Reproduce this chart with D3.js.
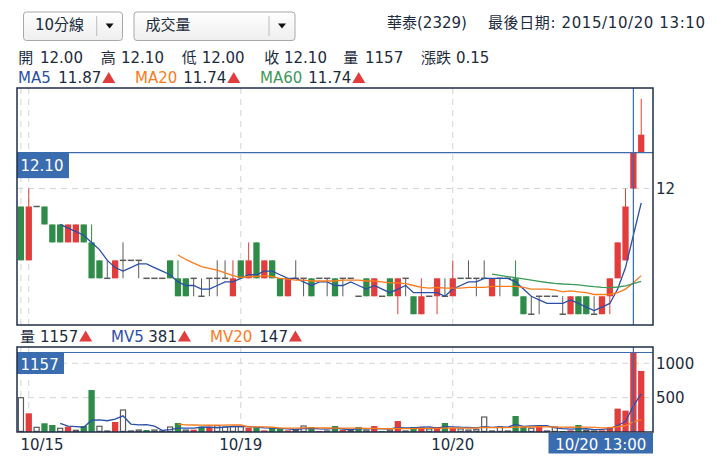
<!DOCTYPE html>
<html>
<head>
<meta charset="utf-8">
<script src="https://cdn.jsdelivr.net/npm/d3@7"></script>
<style>
  body { margin: 0; background: #fff; }
  svg { display: block; font-family: "DejaVu Sans", Verdana, "Noto Sans CJK TC", sans-serif; }
</style>
</head>
<body>
<svg id="chart" width="718" height="461"></svg>
<script>
const width = 718;
const height = 461;
const sid = "#chart";

// trading days on screen, bars per day and first bar time of each
const dayLabels = ["10/15", "10/16", "10/19", "10/20"];
const dayBars = [1, 27, 27, 25];
const dayFirstTime = ["13:30", "09:10", "09:10", "09:10"];

// 10 minute bars
const opens = [
  11.95, 11.80, 11.95, 11.95, 11.90, 11.90, 11.85, 11.85, 11.90, 11.85,
  11.80, 11.75, 11.75, 11.80, 11.80, 11.80, 11.75, 11.75, 11.75, 11.80,
  11.75, 11.75, 11.75, 11.70, 11.75, 11.75, 11.75, 11.70, 11.80, 11.75,
  11.85, 11.75, 11.80, 11.75, 11.70, 11.75, 11.75, 11.75, 11.75, 11.75,
  11.75, 11.75, 11.75, 11.70, 11.75, 11.70, 11.70, 11.75, 11.70, 11.75,
  11.70, 11.65, 11.70, 11.70, 11.70, 11.70, 11.75, 11.75, 11.75, 11.75,
  11.70, 11.75, 11.75, 11.75, 11.70, 11.65, 11.70, 11.70, 11.70, 11.65,
  11.65, 11.70, 11.70, 11.65, 11.65, 11.70, 11.75, 11.80, 12.00, 12.10
];
const highs = [
  11.95, 12.00, 11.95, 11.95, 11.90, 11.90, 11.90, 11.90, 11.90, 11.90,
  11.80, 11.80, 11.80, 11.85, 11.80, 11.80, 11.75, 11.75, 11.75, 11.80,
  11.80, 11.75, 11.75, 11.75, 11.75, 11.80, 11.80, 11.80, 11.80, 11.85,
  11.85, 11.80, 11.80, 11.75, 11.75, 11.80, 11.75, 11.75, 11.75, 11.75,
  11.75, 11.75, 11.75, 11.70, 11.75, 11.75, 11.70, 11.75, 11.75, 11.75,
  11.70, 11.75, 11.70, 11.75, 11.75, 11.80, 11.75, 11.80, 11.75, 11.80,
  11.75, 11.75, 11.75, 11.80, 11.70, 11.70, 11.70, 11.70, 11.70, 11.70,
  11.70, 11.70, 11.70, 11.70, 11.70, 11.75, 11.85, 12.00, 12.10, 12.25
];
const lows = [
  11.80, 11.80, 11.95, 11.90, 11.85, 11.85, 11.85, 11.85, 11.85, 11.75,
  11.75, 11.75, 11.75, 11.75, 11.80, 11.75, 11.75, 11.75, 11.75, 11.75,
  11.70, 11.70, 11.70, 11.70, 11.70, 11.70, 11.75, 11.70, 11.75, 11.75,
  11.75, 11.75, 11.75, 11.70, 11.70, 11.75, 11.70, 11.70, 11.75, 11.70,
  11.70, 11.70, 11.75, 11.70, 11.70, 11.70, 11.70, 11.70, 11.65, 11.70,
  11.65, 11.65, 11.70, 11.65, 11.70, 11.70, 11.75, 11.75, 11.70, 11.75,
  11.70, 11.70, 11.75, 11.70, 11.65, 11.65, 11.65, 11.70, 11.70, 11.65,
  11.65, 11.65, 11.65, 11.65, 11.65, 11.65, 11.75, 11.80, 12.00, 12.10
];
const closes = [
  11.80, 11.95, 11.95, 11.90, 11.85, 11.85, 11.90, 11.90, 11.85, 11.75,
  11.75, 11.75, 11.80, 11.80, 11.80, 11.80, 11.75, 11.75, 11.75, 11.75,
  11.70, 11.70, 11.75, 11.70, 11.75, 11.75, 11.75, 11.75, 11.75, 11.80,
  11.75, 11.80, 11.75, 11.70, 11.75, 11.75, 11.75, 11.70, 11.75, 11.75,
  11.70, 11.75, 11.75, 11.70, 11.70, 11.75, 11.70, 11.70, 11.75, 11.75,
  11.65, 11.70, 11.70, 11.75, 11.70, 11.75, 11.75, 11.75, 11.75, 11.75,
  11.75, 11.75, 11.75, 11.70, 11.65, 11.65, 11.70, 11.70, 11.70, 11.65,
  11.70, 11.65, 11.65, 11.65, 11.70, 11.75, 11.85, 11.95, 12.10, 12.15
];
const volumes = [
  499, 272, 68, 127, 102, 54, 78, 25, 87, 611,
  83, 15, 146, 320, 15, 29, 29, 29, 15, 73,
  131, 29, 34, 78, 78, 92, 73, 78, 78, 63,
  63, 24, 58, 53, 24, 24, 87, 73, 15, 15,
  87, 29, 24, 73, 29, 87, 15, 29, 160, 15,
  73, 73, 44, 73, 131, 58, 44, 29, 34, 218,
  15, 73, 15, 233, 73, 55, 87, 15, 73, 15,
  24, 102, 24, 15, 24, 73, 340, 311, 1157, 888
];

const priceTicks = [12];
const volumeTicks = [500, 1000];
const maPeriods = [5, 20, 60];
const mvPeriods = [5, 20];
const focusIndex = 78;   // bar under the cursor

const RED = "#e23d3d", GREEN = "#2f8c48", GREY = "#5a5a5a";
const MA_COLORS = ["#2b4fa7", "#fb7b1c", "#3c9a58"];
const TEXT = "#1b2b3d", BORDER = "#1d2e4b", CROSS = "#3b6ba9", BOX = "#3a6cb0";

// build one record per bar
const bars = [];
dayLabels.forEach((day, k) => {
    const [hh, mm] = dayFirstTime[k].split(":").map(Number);
    for (let j = 0; j < dayBars[k]; j++) {
        const t = hh * 60 + mm + j * 10;
        bars.push({
            day: day,
            first: j === 0,
            time: String(Math.floor(t / 60)).padStart(2, "0") + ":" + String(t % 60).padStart(2, "0")
        });
    }
});
bars.forEach((b, i) => {
    b.i = i;
    b.open = opens[i]; b.high = highs[i]; b.low = lows[i]; b.close = closes[i];
    b.volume = volumes[i];
    b.prev = i > 0 ? closes[i - 1] : null;
});

function movingAvg(values, n) {
    // the chart starts each average one bar after a full window
    return values.map((v, i) => i >= n ? { i: i, v: d3.mean(values.slice(i - n + 1, i + 1)) } : null)
        .filter(d => d);
}
const round2 = v => Math.round(v * 100 + 1e-6) / 100;

const svg = d3.select(sid);
const fmt2 = d3.format(".2f");

const main = { left: 17, right: 653, top: 88, bottom: 325 };
const vol = { left: 17, right: 653, top: 347, bottom: 432 };

const x = d3.scaleBand()
    .domain(d3.range(bars.length + 1))
    .range([main.left, main.right]);
const cx = i => x(i) + x.bandwidth() / 2;
const bodyW = x.bandwidth() * 0.8;

const y = d3.scaleLinear().domain([11.62, 12.28]).range([main.bottom, main.top]);
const yv = d3.scaleLinear().domain([0, 1000]).range([vol.bottom, 363.3]);

// ---------- top controls ----------
const grad = svg.append("defs").append("linearGradient")
    .attr("id", "selbg").attr("x1", 0).attr("x2", 0).attr("y1", 0).attr("y2", 1);
grad.append("stop").attr("offset", "0%").attr("stop-color", "#ffffff");
grad.append("stop").attr("offset", "100%").attr("stop-color", "#eeeeee");

const selects = [
    { label: "10分線", x: 23.5, w: 99, sep: 96.7 },
    { label: "成交量", x: 134, w: 161, sep: 269 }
];
selects.forEach(s => {
    const g = svg.append("g");
    g.append("rect")
        .attr("x", s.x).attr("y", 12).attr("width", s.w).attr("height", 28.5)
        .attr("rx", 3).attr("fill", "url(#selbg)").attr("stroke", "#a9a9a9");
    g.append("line")
        .attr("x1", s.sep).attr("x2", s.sep).attr("y1", 16).attr("y2", 36)
        .attr("stroke", "#bdbdbd");
    const ax = (s.sep + s.x + s.w) / 2;
    g.append("path")
        .attr("d", `M${ax - 4},23.5 L${ax + 4},23.5 L${ax},28.5 Z`)
        .attr("fill", "#111");
    g.append("text")
        .attr("x", s.x + 11.5).attr("y", 30)
        .attr("font-size", 15).attr("fill", TEXT)
        .text(s.label);
});

svg.append("text").attr("x", 387).attr("y", 28).attr("font-size", 15).attr("fill", TEXT)
    .text("華泰(2329)");
const lastBar = bars[bars.length - 1];
svg.append("text").attr("x", 488).attr("y", 28).attr("font-size", 15).attr("fill", TEXT)
    .attr("textLength", 217).attr("lengthAdjust", "spacing")
    .text("最後日期: 2015/" + lastBar.day + " " + lastBar.time);

// ---------- OHLC row ----------
const fb = bars[focusIndex];
const ohlc = [
    ["開", fmt2(fb.open), 18.3, 40],
    ["高", fmt2(fb.high), 100.7, 121],
    ["低", fmt2(fb.low), 181.7, 201.7],
    ["收", fmt2(fb.close), 264.3, 284],
    ["量", String(fb.volume), 343.3, 365],
    ["漲跌", fmt2(fb.close - fb.prev), 421, 456]
];
ohlc.forEach(d => {
    svg.append("text").attr("x", d[2]).attr("y", 63).attr("font-size", 15).attr("fill", TEXT).text(d[0]);
    svg.append("text").attr("x", d[3]).attr("y", 63).attr("font-size", 15).attr("fill", TEXT).text(d[1]);
});

function upArrow(xp, yb) {
    svg.append("path")
        .attr("d", `M${xp},${yb} L${xp + 13},${yb} L${xp + 6.5},${yb - 11} Z`)
        .attr("fill", RED);
}

// ---------- moving average legend ----------
const maSeries = maPeriods.map(n => movingAvg(closes, n));
const maLegendX = [[18, 58.3], [135, 183.3], [260, 308.3]];
maPeriods.forEach((n, k) => {
    const last = maSeries[k].find(d => d.i === focusIndex);
    svg.append("text").attr("x", maLegendX[k][0]).attr("y", 83).attr("font-size", 15)
        .attr("fill", MA_COLORS[k]).text("MA" + n);
    const t = svg.append("text").attr("x", maLegendX[k][1]).attr("y", 83).attr("font-size", 15)
        .attr("fill", TEXT).text(fmt2(round2(last.v)));
    upArrow(maLegendX[k][1] + t.node().getComputedTextLength() + 1, 83);
});

// ---------- price panel ----------
const gMain = svg.append("g");
const dayStarts = bars.filter(b => b.first);

gMain.selectAll(".vgrid").data(dayStarts).enter().append("line")
    .attr("x1", d => cx(d.i)).attr("x2", d => cx(d.i))
    .attr("y1", main.top).attr("y2", main.bottom)
    .attr("stroke", "#d4d4d4").attr("stroke-dasharray", "6,5");
gMain.selectAll(".hgrid").data(priceTicks).enter().append("line")
    .attr("x1", main.left).attr("x2", main.right - 4)
    .attr("y1", d => y(d)).attr("y2", d => y(d))
    .attr("stroke", "#d4d4d4").attr("stroke-dasharray", "6,5");

const candleColor = d => d.close > d.open ? RED : d.close < d.open ? GREEN : GREY;

const candles = gMain.selectAll(".candle").data(bars).enter().append("g");
candles.append("line")
    .attr("x1", d => cx(d.i)).attr("x2", d => cx(d.i))
    .attr("y1", d => y(d.high)).attr("y2", d => y(d.low))
    .attr("stroke", candleColor).attr("stroke-width", 1);
candles.filter(d => d.close !== d.open).append("rect")
    .attr("x", d => cx(d.i) - bodyW / 2).attr("width", bodyW)
    .attr("y", d => y(Math.max(d.open, d.close)))
    .attr("height", d => y(Math.min(d.open, d.close)) - y(Math.max(d.open, d.close)))
    .attr("fill", candleColor);
candles.filter(d => d.close === d.open).append("line")
    .attr("x1", d => cx(d.i) - bodyW / 2).attr("x2", d => cx(d.i) + bodyW / 2)
    .attr("y1", d => y(d.open)).attr("y2", d => y(d.open))
    .attr("stroke", GREY).attr("stroke-width", 1.5);

maSeries.forEach((s, k) => {
    gMain.append("path").datum(s)
        .attr("d", d3.line().x(d => cx(d.i)).y(d => y(d.v)))
        .attr("fill", "none").attr("stroke", MA_COLORS[k]).attr("stroke-width", 1.3);
});

function styleAxis(g) {
    g.attr("font-size", 15).attr("font-family", null);
    g.select(".domain").remove();
    g.selectAll("text").attr("fill", TEXT);
}

gMain.append("g")
    .attr("transform", `translate(${main.right},0)`)
    .call(d3.axisRight(y).tickValues(priceTicks).tickSize(0).tickPadding(3).tickFormat(d3.format("d")))
    .call(styleAxis);

// cursor
gMain.append("line")
    .attr("x1", main.left).attr("x2", main.right)
    .attr("y1", y(fb.close)).attr("y2", y(fb.close))
    .attr("stroke", CROSS).attr("stroke-width", 1.2);
gMain.append("line")
    .attr("x1", cx(focusIndex)).attr("x2", cx(focusIndex))
    .attr("y1", main.top).attr("y2", main.bottom)
    .attr("stroke", CROSS).attr("stroke-width", 1.2);
gMain.append("rect")
    .attr("x", main.left).attr("y", y(fb.close)).attr("width", 52).attr("height", 25.5)
    .attr("fill", BOX);
gMain.append("text")
    .attr("x", main.left + 3.5).attr("y", y(fb.close) + 18)
    .attr("font-size", 15).attr("fill", "#fff")
    .text(fmt2(fb.close));

gMain.append("rect")
    .attr("x", main.left).attr("y", main.top)
    .attr("width", main.right - main.left).attr("height", main.bottom - main.top)
    .attr("fill", "none").attr("stroke", BORDER).attr("stroke-width", 1.5);

// ---------- volume legend ----------
const mvSeries = mvPeriods.map(n => movingAvg(volumes, n));
svg.append("text").attr("x", 20).attr("y", 341.5).attr("font-size", 15).attr("fill", TEXT).text("量");
const vt = svg.append("text").attr("x", 40).attr("y", 341.5).attr("font-size", 15).attr("fill", TEXT)
    .text(String(fb.volume));
upArrow(40 + vt.node().getComputedTextLength() + 1, 341.5);
const mvLegendX = [[111, 148.3], [210, 259.3]];
mvPeriods.forEach((n, k) => {
    const last = mvSeries[k].find(d => d.i === focusIndex);
    svg.append("text").attr("x", mvLegendX[k][0]).attr("y", 341.5).attr("font-size", 15)
        .attr("fill", MA_COLORS[k]).text("MV" + n);
    const t = svg.append("text").attr("x", mvLegendX[k][1]).attr("y", 341.5).attr("font-size", 15)
        .attr("fill", TEXT).text(String(Math.round(last.v)));
    upArrow(mvLegendX[k][1] + t.node().getComputedTextLength() + 1, 341.5);
});

// ---------- volume panel ----------
const gVol = svg.append("g");
gVol.selectAll(".vgrid").data(dayStarts).enter().append("line")
    .attr("x1", d => cx(d.i)).attr("x2", d => cx(d.i))
    .attr("y1", vol.top).attr("y2", vol.bottom)
    .attr("stroke", "#d4d4d4").attr("stroke-dasharray", "6,5");
gVol.selectAll(".hgrid").data(volumeTicks).enter().append("line")
    .attr("x1", vol.left).attr("x2", vol.right - 4)
    .attr("y1", d => yv(d)).attr("y2", d => yv(d))
    .attr("stroke", "#d4d4d4").attr("stroke-dasharray", "6,5");

const volColor = d => d.prev === null || d.close === d.prev ? null : d.close > d.prev ? RED : GREEN;
gVol.selectAll(".vbar").data(bars).enter().append("rect")
    .attr("x", d => cx(d.i) - bodyW / 2 + (volColor(d) ? 0 : 0.6))
    .attr("width", d => volColor(d) ? bodyW : bodyW - 1.2)
    .attr("y", d => yv(d.volume))
    .attr("height", d => Math.max(vol.bottom - yv(d.volume) - (volColor(d) ? 0 : 0.6), 0.5))
    .attr("fill", d => volColor(d) || "#fff")
    .attr("stroke", d => volColor(d) ? "none" : GREY)
    .attr("stroke-width", 1.2);

mvSeries.forEach((s, k) => {
    gVol.append("path").datum(s)
        .attr("d", d3.line().x(d => cx(d.i)).y(d => yv(d.v)))
        .attr("fill", "none").attr("stroke", MA_COLORS[k]).attr("stroke-width", 1.3);
});

gVol.append("g")
    .attr("transform", `translate(${vol.right},0)`)
    .call(d3.axisRight(yv).tickValues(volumeTicks).tickSize(0).tickPadding(3).tickFormat(d3.format("d")))
    .call(styleAxis);

gVol.append("line")
    .attr("x1", vol.left).attr("x2", vol.right)
    .attr("y1", yv(fb.volume)).attr("y2", yv(fb.volume))
    .attr("stroke", CROSS).attr("stroke-width", 1.2);
gVol.append("line")
    .attr("x1", cx(focusIndex)).attr("x2", cx(focusIndex))
    .attr("y1", vol.top).attr("y2", vol.bottom)
    .attr("stroke", CROSS).attr("stroke-width", 1.2);
gVol.append("rect")
    .attr("x", vol.left).attr("y", yv(fb.volume) + 0.5).attr("width", 47).attr("height", 21)
    .attr("fill", BOX);
gVol.append("text")
    .attr("x", vol.left + 3.5).attr("y", yv(fb.volume) + 17.5)
    .attr("font-size", 15).attr("fill", "#fff")
    .text(String(fb.volume));

gVol.append("rect")
    .attr("x", vol.left).attr("y", vol.top)
    .attr("width", vol.right - vol.left).attr("height", vol.bottom - vol.top)
    .attr("fill", "none").attr("stroke", BORDER).attr("stroke-width", 1.5);

// ---------- date axis ----------
const shownDays = dayStarts.filter(d => d.day !== "10/16");
const xAxis = svg.append("g")
    .attr("transform", `translate(0,${vol.bottom})`)
    .call(d3.axisBottom(x).tickValues(shownDays.map(d => d.i)).tickSize(0)
        .tickFormat(i => bars[i].day))
    .call(styleAxis);
xAxis.selectAll(".tick").attr("transform", i => `translate(${cx(i)},0)`);
xAxis.selectAll(".tick text").attr("dy", null).attr("y", 18);
xAxis.selectAll(".tick").filter(i => i === 0).select("text").attr("text-anchor", "start").attr("x", -0.5);

svg.append("rect")
    .attr("x", 548.5).attr("y", 433).attr("width", main.right - 548.5).attr("height", 20.5)
    .attr("fill", BOX);
svg.append("text")
    .attr("x", (548.5 + main.right) / 2).attr("y", 450)
    .attr("text-anchor", "middle").attr("font-size", 15).attr("fill", "#fff")
    .text(fb.day + " " + fb.time);
</script>
</body>
</html>
